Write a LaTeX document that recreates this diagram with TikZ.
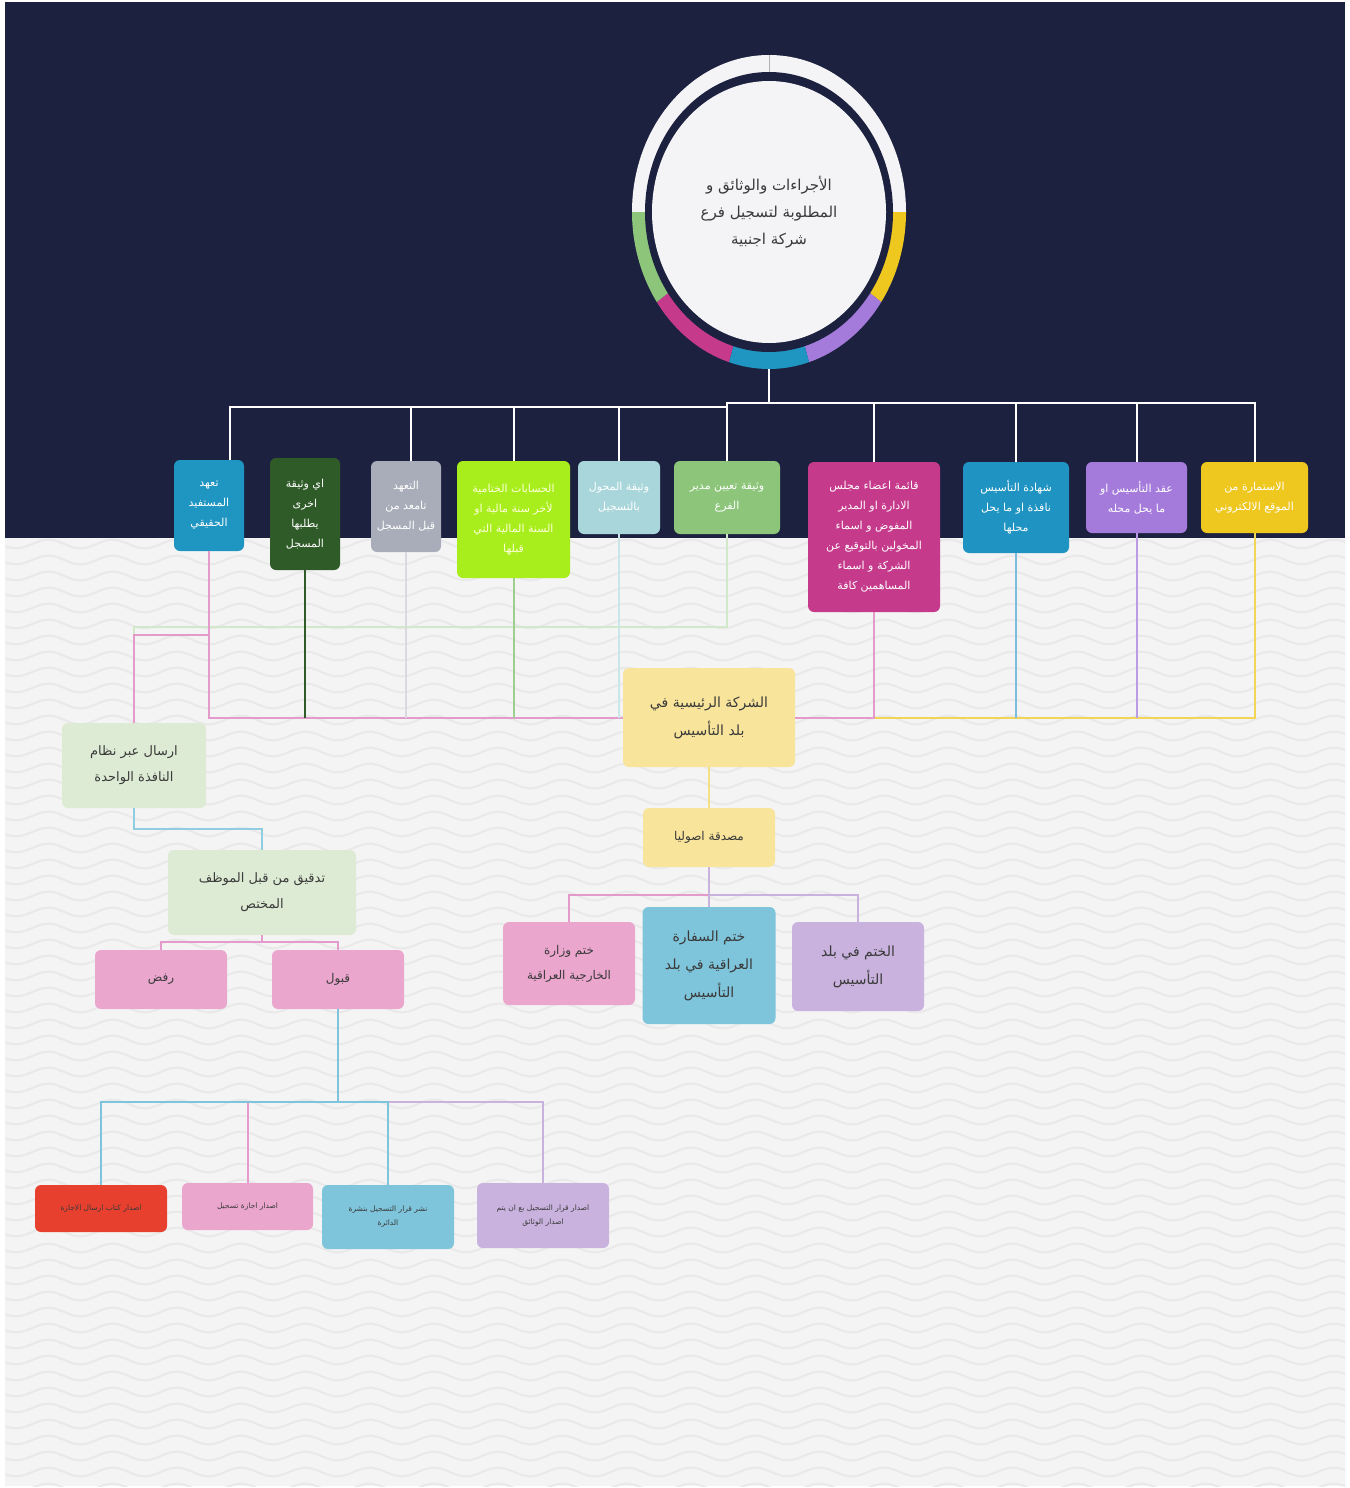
\documentclass[tikz,border=0pt]{standalone}
\usepackage{fontspec}
\usetikzlibrary{shapes.geometric}
\newfontfamily\arabicfont[Script=Arabic]{DejaVu Sans}
\TeXXeTstate=1
\newcommand\AR[1]{\beginR #1\endR}
\definecolor{navy}{HTML}{1D2140}
\definecolor{paper}{HTML}{F4F4F4}
\definecolor{wavec}{HTML}{E9E9E9}
\definecolor{cA}{HTML}{1F95C2}
\definecolor{cB}{HTML}{2F5B28}
\definecolor{cC}{HTML}{A9ADB9}
\definecolor{cD}{HTML}{A7EE1C}
\definecolor{cE}{HTML}{A9D6DB}
\definecolor{cF}{HTML}{8DC67B}
\definecolor{cG}{HTML}{C63A8C}
\definecolor{cH}{HTML}{1F93C1}
\definecolor{cI}{HTML}{A47BDB}
\definecolor{cJ}{HTML}{EEC71F}
\definecolor{yel}{HTML}{F8E49A}
\definecolor{pnk}{HTML}{EBA6CE}
\definecolor{sky}{HTML}{7EC4DA}
\definecolor{lav}{HTML}{C9B2DE}
\definecolor{mint}{HTML}{DDEBD4}
\definecolor{redb}{HTML}{E8402F}
\definecolor{txt}{HTML}{3A3A3A}
\definecolor{ringw}{HTML}{F4F4F6}
\definecolor{pline}{HTML}{E49ACB}
\tikzset{
  bx/.style={rectangle, rounded corners=6pt, inner sep=0pt, align=center},
  topbx/.style={bx, text=white, font=\arabicfont\fontsize{11}{20}\selectfont},
  midbx/.style={bx, text=txt, font=\arabicfont\fontsize{14}{28}\selectfont},
  smallbx/.style={bx, text=txt, font=\arabicfont\fontsize{7.5}{14}\selectfont, minimum width=132pt},
  wline/.style={draw=white, line width=2pt},
  cl/.style={line width=2pt}
}
\begin{document}
\begin{tikzpicture}[x=1pt,y=-1pt]
\useasboundingbox (0,0) rectangle (1349,1488);
% backgrounds
\fill[white] (0,0) rectangle (1349,1488);
\fill[navy] (5,2) rectangle (1345,538);
\fill[paper] (5,538) rectangle (1345,1486);
\begin{scope}
\clip (5,538) rectangle (1345,1486);
\foreach \yy in {544,560,...,1490} {
  \draw[wavec, line width=2pt] plot[domain=5:1345, samples=180] (\x, {\yy+4.5*sin(\x*5.6)});
}
\end{scope}
% ring
\coordinate (rc) at (769,212);
\fill[ringw] (rc) -- ++(-137,0) arc[start angle=180, end angle=360, x radius=137, y radius=157] -- cycle;
\fill[cJ] (rc) -- ++(0:137 and 157) arc[start angle=0, end angle=35, x radius=137, y radius=157] -- cycle;
\fill[cI] (rc) -- ++(35:137 and 157) arc[start angle=35, end angle=73, x radius=137, y radius=157] -- cycle;
\fill[cA] (rc) -- ++(73:137 and 157) arc[start angle=73, end angle=107, x radius=137, y radius=157] -- cycle;
\fill[cG] (rc) -- ++(107:137 and 157) arc[start angle=107, end angle=145, x radius=137, y radius=157] -- cycle;
\fill[cF] (rc) -- ++(145:137 and 157) arc[start angle=145, end angle=180, x radius=137, y radius=157] -- cycle;
\fill[navy] (rc) ellipse[x radius=124, y radius=140];
\draw[gray!60, line width=1pt] (769,55) -- (769,72);
\node[ellipse, fill=ringw, minimum width=234pt, minimum height=262pt, inner sep=0pt,
  text=txt, align=center, font=\arabicfont\fontsize{15}{27}\selectfont] (root) at (rc)
  {\AR{الأجراءات والوثائق و}\\\AR{المطلوبة لتسجيل فرع}\\\AR{شركة اجنبية}};
\coordinate (rootb) at (769,369);
\coordinate (hub) at (769,403);
% top boxes
\node[topbx, fill=cA, minimum width=70pt, minimum height=91pt] (b1) at (209,505.5)
  {\AR{تعهد}\\\AR{المستفيد}\\\AR{الحقيقي}};
\node[topbx, fill=cB, minimum width=70pt, minimum height=112pt] (b2) at (305,514)
  {\AR{اي وثيقة}\\\AR{اخرى}\\\AR{يطلبها}\\\AR{المسجل}};
\node[topbx, fill=cC, minimum width=70pt, minimum height=91pt] (b3) at (406,506.5)
  {\AR{التعهد}\\\AR{تامعد من}\\\AR{قبل المسجل}};
\node[topbx, fill=cD, text=white!85!yellow, minimum width=113pt, minimum height=117pt] (b4) at (513.5,519.5)
  {\AR{الحسابات الختامية}\\\AR{لأخر سنة مالية او}\\\AR{السنة المالية التي}\\\AR{قبلها}};
\node[topbx, fill=cE, minimum width=82pt, minimum height=73pt] (b5) at (619,497.5)
  {\AR{وثيقة المحول}\\\AR{بالتسجيل}};
\node[topbx, fill=cF, minimum width=106pt, minimum height=73pt] (b6) at (727,497.5)
  {\AR{وثيقة تعيين مدير}\\\AR{الفرع}};
\node[topbx, fill=cG, minimum width=132pt, minimum height=150pt] (b7) at (874,537)
  {\AR{قائمة اعضاء مجلس}\\\AR{الادارة او المدير}\\\AR{المفوض و اسماء}\\\AR{المخولين بالتوقيع عن}\\\AR{الشركة و اسماء}\\\AR{المساهمين كافة}};
\node[topbx, fill=cH, minimum width=106pt, minimum height=91pt] (b8) at (1016,507.5)
  {\AR{شهادة التأسيس}\\\AR{نافذة او ما يحل}\\\AR{محلها}};
\node[topbx, fill=cI, minimum width=101pt, minimum height=71pt] (b9) at (1136.5,497.5)
  {\AR{عقد التأسيس او}\\\AR{ما يحل محله}};
\node[topbx, fill=cJ, minimum width=107pt, minimum height=71pt] (b10) at (1254.5,497.5)
  {\AR{الاستمارة من}\\\AR{الموقع الالكتروني}};
% middle boxes
\node[midbx, fill=yel, minimum width=172pt, minimum height=99pt] (main) at (709,717.5)
  {\AR{الشركة الرئيسية في}\\\AR{بلد التأسيس}};
\node[midbx, fill=yel, minimum width=132pt, minimum height=59pt, font=\arabicfont\fontsize{12}{24}\selectfont] (mus) at (709,837.5)
  {\AR{مصدقة اصوليا}};
\node[midbx, fill=pnk, minimum width=132pt, minimum height=83pt, font=\arabicfont\fontsize{12}{25}\selectfont] (wiz) at (569,963.5)
  {\AR{ختم وزارة}\\\AR{الخارجية العراقية}};
\node[midbx, fill=sky, minimum width=133pt, minimum height=117pt] (saf) at (709,965.5)
  {\AR{ختم السفارة}\\\AR{العراقية في بلد}\\\AR{التأسيس}};
\node[midbx, fill=lav, minimum width=132pt, minimum height=89pt] (khatm) at (858,966.5)
  {\AR{الختم في بلد}\\\AR{التأسيس}};
\node[midbx, fill=mint, minimum width=144pt, minimum height=85pt, font=\arabicfont\fontsize{13}{26}\selectfont] (irsal) at (134,765.5)
  {\AR{ارسال عبر نظام}\\\AR{النافذة الواحدة}};
\node[midbx, fill=mint, minimum width=188pt, minimum height=85pt, font=\arabicfont\fontsize{13}{26}\selectfont] (tadqiq) at (262,892.5)
  {\AR{تدقيق من قبل الموظف}\\\AR{المختص}};
\node[midbx, fill=pnk, minimum width=132pt, minimum height=59pt, font=\arabicfont\fontsize{12}{24}\selectfont] (rafd) at (161,979.5)
  {\AR{رفض}};
\node[midbx, fill=pnk, minimum width=132pt, minimum height=59pt, font=\arabicfont\fontsize{12}{24}\selectfont] (qubul) at (338,979.5)
  {\AR{قبول}};
% final boxes
\node[smallbx, fill=redb, minimum height=47pt] (f1) at (101,1208.5) {\AR{اصدار كتاب ارسال الاجازة}};
\node[smallbx, fill=pnk, minimum width=131pt, minimum height=47pt] (f2) at (247.5,1206.5) {\AR{اصدار اجازة تسجيل}};
\node[smallbx, fill=sky, minimum height=64pt] (f3) at (388,1217) {\AR{نشر قرار التسجيل بنشرة}\\\AR{الدائرة}};
\node[smallbx, fill=lav, minimum height=65pt] (f4) at (543,1215.5) {\AR{اصدار قرار التسجيل بع ان يتم}\\\AR{اصدار الوثائق}};
% top connectors
\draw[wline] (rootb) -- (hub);
\draw[wline] (b10.north) -- ++(0,-59) -| (b6.north);
\foreach \n in {b7,b8,b9} \draw[wline] (\n.north) -- ++(0,-59);
\draw[wline] ([xshift=21pt]b1.north) -- ++(0,-53) -| (b6.north);
\draw[wline] ([xshift=5pt]b3.north) -- ++(0,-54);
\foreach \n in {b4,b5} \draw[wline] (\n.north) -- ++(0,-54);
% connectors to main company
\coordinate (k1) at (208,635);
\coordinate (k2) at (134,627);
\draw[cl, draw=cF!40!white] (b6.south) |- (k2) -- (irsal.north);
\draw[cl, draw=pline] (b1.south) |- (main.west);
\draw[cl, draw=pline] (k1) -| (irsal.north);
\draw[cl, draw=cB] (b2.south) -- (b2.south |- main.west);
\draw[cl, draw=cC!45!white] (b3.south) -- (b3.south |- main.west);
\draw[cl, draw=cF!85!white] (b4.south) -- (b4.south |- main.west);
\draw[cl, draw=cE!60!white] (b5.south) -- (b5.south |- main.west);
\draw[cl, draw=cJ!75!white] (b10.south) |- (b7.south |- main.east);
\draw[cl, draw=pline] (b7.south) |- (main.east);
\draw[cl, draw=cH!60!white] (b8.south) -- (b8.south |- main.east);
\draw[cl, draw=cI!75!white] (b9.south) -- (b9.south |- main.east);
% legalisation branch
\draw[cl, draw=cJ!55!white] (main.south) -- (mus.north);
\draw[cl, draw=lav] (mus.south) -- ++(0,28) -| (khatm.north);
\draw[cl, draw=pline] (mus.south) -- ++(0,28) -| (wiz.north);
\draw[cl, draw=lav] (mus.south) -- (saf.north);
% one window branch
\draw[cl, draw=sky!85!white] (irsal.south) -- ++(0,21) -| (tadqiq.north);
\draw[cl, draw=pline] (tadqiq.south) -- ++(0,7) -| (rafd.north);
\draw[cl, draw=pline] (tadqiq.south) -- ++(0,7) -| (qubul.north);
\draw[cl, draw=lav] (qubul.south) -- ++(0,93) -| (f4.north);
\draw[cl, draw=sky] (qubul.south) -- ++(0,93) -| (f3.north);
\draw[cl, draw=pline] (qubul.south) -- ++(0,93) -| (f2.north);
\draw[cl, draw=sky] (qubul.south) -- ++(0,93) -| (f1.north);
\end{tikzpicture}
\end{document}
